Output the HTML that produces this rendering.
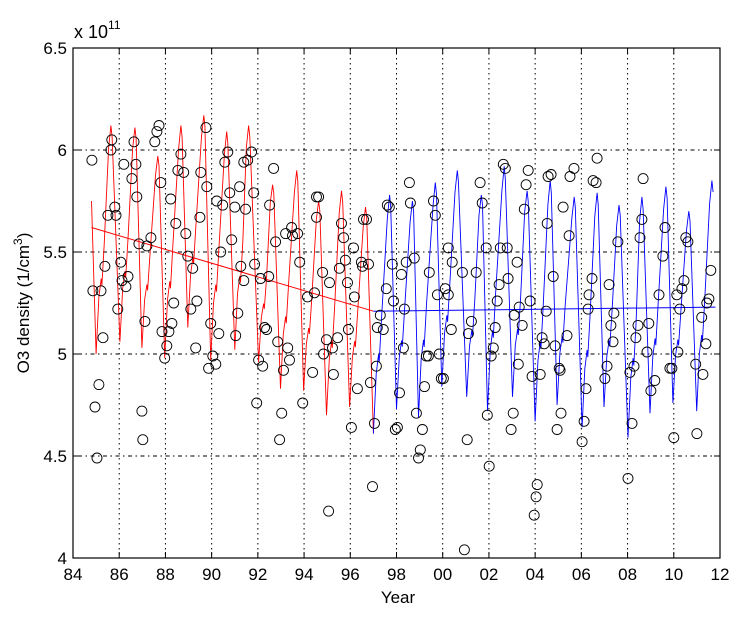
<!DOCTYPE html>
<html><head><meta charset="utf-8"><style>
html,body{margin:0;padding:0;background:#fff;}
svg{display:block;font-family:"Liberation Sans",sans-serif;}
</style></head><body>
<svg id="chart" width="750" height="619" viewBox="0 0 750 619" xmlns="http://www.w3.org/2000/svg">
<rect x="0" y="0" width="750" height="619" fill="#fff"/>
<g id="grid"></g>
<g id="plot"></g>
<g id="axes"></g>
<text x="74" y="38" font-size="18">x 10<tspan font-size="12" dy="-9">11</tspan></text>
<text x="398" y="603" font-size="17" text-anchor="middle">Year</text>
<text transform="translate(29,303) rotate(-90)" font-size="17" text-anchor="middle">O3 density (1/cm<tspan font-size="12" dy="-7">3</tspan><tspan dy="7">)</tspan></text>
</svg>
<script>
var xTicks=[84,86,88,90,92,94,96,98,100,102,104,106,108,110,112];
var xTickLabels=["84","86","88","90","92","94","96","98","00","02","04","06","08","10","12"];
var yTicks=[4,4.5,5,5.5,6,6.5];
var yTickLabels=["4","4.5","5","5.5","6","6.5"];
// red (pre-1997) seasonal fit: start value, peaks and troughs
var redStart=[84.8,5.75];
var redTroughYears=[85.0,86.03,86.98,87.97,88.97,89.96,91.0,92.03,92.98,93.98,94.97,95.97,97.0];
var redTroughVals=[5.0,5.06,5.03,4.98,5.13,4.97,5.02,4.96,4.83,4.82,4.70,4.74,4.61];
var redPeakYears=[85.64,86.68,87.67,88.67,89.66,90.65,91.6,92.64,93.68,94.63,95.62,96.66];
var redPeakVals=[6.12,6.11,5.97,6.12,6.17,6.09,6.12,5.83,5.90,5.75,5.80,5.72];
// blue (post-1997) seasonal fit
var blueTroughYears=[97.0,98.0,98.95,99.96,101.04,101.94,103.02,104.0,104.95,106.03,106.98,108.02,108.97,109.96,110.99];
var blueTroughVals=[4.61,4.73,4.69,4.84,4.79,4.72,4.79,4.67,4.75,4.64,4.74,4.59,4.71,4.76,4.72];
var bluePeakYears=[97.7,98.69,99.68,100.63,101.67,102.66,103.65,104.65,105.69,106.68,107.63,108.62,109.66,110.65,111.65];
var bluePeakVals=[5.78,5.75,5.84,5.90,5.78,5.92,5.80,5.85,5.77,5.79,5.73,5.77,5.82,5.70,5.85];
var redTrendYears=[84.8,97.0];
var redTrendVals=[5.62,5.21];
var blueTrendYears=[97.0,111.8];
var blueTrendVals=[5.21,5.23];
var obsYears=[84.82,85.68,85.64,86.20,86.64,86.72,86.55,86.76,85.81,85.51,85.86,85.38,84.86,85.21,85.30,85.12,84.95,86.07,86.12,86.38,86.29,85.94,87.72,87.63,87.54,87.80,87.37,86.85,87.20,87.11,86.98,87.02,85.04,88.23,88.67,88.54,88.79,88.45,88.88,88.97,89.18,88.36,88.28,87.85,88.15,88.06,87.97,89.36,89.10,89.31,89.75,89.53,89.79,89.49,90.22,90.48,89.96,90.31,90.05,90.18,89.87,90.70,90.57,90.78,91.21,91.00,90.87,90.39,91.26,91.13,91.04,91.39,91.73,91.56,92.68,91.82,91.47,92.51,92.77,91.86,91.39,92.12,92.47,92.29,92.38,92.86,93.29,93.37,93.11,92.03,92.21,91.95,93.03,92.94,93.94,93.46,93.20,93.50,93.72,93.81,94.15,94.45,94.63,94.54,94.54,94.80,95.10,94.97,95.23,95.45,94.84,94.37,95.27,95.06,95.62,95.71,96.14,95.79,95.53,95.88,96.18,95.92,96.31,96.05,96.57,96.70,96.48,96.79,96.53,97.30,97.17,97.43,97.13,96.87,97.05,96.96,97.60,97.69,97.82,98.42,98.21,97.56,97.87,98.34,98.30,98.13,98.04,97.95,98.56,98.60,98.77,98.86,99.12,99.03,98.95,99.21,99.29,99.38,99.60,99.68,99.42,99.77,100.11,100.24,100.24,100.41,100.37,99.85,99.94,100.03,101.06,100.94,100.85,101.45,101.62,101.71,101.88,101.11,101.24,101.93,102.01,102.19,102.10,102.27,102.36,102.44,102.49,102.79,102.62,102.71,102.83,103.22,103.09,103.31,103.44,103.27,103.05,102.96,103.70,103.61,103.53,103.78,103.87,104.22,104.09,104.04,103.96,104.56,104.69,104.52,104.78,104.48,104.30,104.39,104.86,105.04,105.12,104.95,105.21,105.51,105.47,105.38,105.68,105.08,106.12,106.03,106.20,106.46,106.33,106.29,106.51,106.64,106.68,107.20,107.41,107.28,107.37,107.11,107.02,107.58,108.02,108.19,108.10,108.28,108.67,108.62,108.54,108.45,108.36,108.84,108.92,109.18,109.01,109.36,109.53,109.62,109.83,109.92,110.00,110.13,110.26,110.35,110.44,110.52,110.61,110.18,110.95,111.26,111.00,111.21,111.39,111.43,111.52,111.60];
var obsVals=[5.95,6.05,6.00,5.93,6.04,5.93,5.86,5.77,5.72,5.68,5.68,5.43,5.31,5.31,5.08,4.85,4.74,5.45,5.36,5.38,5.33,5.22,6.12,6.09,6.04,5.84,5.57,5.54,5.53,5.16,4.72,4.58,4.49,5.76,5.98,5.90,5.89,5.64,5.59,5.48,5.42,5.25,5.15,5.11,5.11,5.04,4.98,5.26,5.22,5.03,6.11,5.89,5.82,5.67,5.75,5.73,5.15,5.10,4.99,4.95,4.93,5.99,5.94,5.79,5.82,5.72,5.56,5.50,5.43,5.20,5.09,5.94,5.99,5.95,5.91,5.79,5.71,5.73,5.55,5.44,5.36,5.37,5.38,5.13,5.12,5.06,5.03,4.97,4.92,4.97,4.94,4.76,4.71,4.58,4.76,5.62,5.59,5.58,5.59,5.45,5.28,5.30,5.77,5.77,5.67,5.40,5.35,5.07,5.03,5.08,5.00,4.91,4.90,4.23,5.64,5.57,5.52,5.46,5.42,5.35,5.28,5.12,4.83,4.64,5.66,5.66,5.45,5.44,5.43,5.19,5.13,5.12,4.94,4.86,4.66,4.35,5.73,5.72,5.44,5.45,5.39,5.32,5.26,5.22,5.03,4.81,4.64,4.63,5.84,5.74,5.47,4.71,4.63,4.53,4.49,4.84,4.99,4.99,5.75,5.68,5.40,5.29,5.32,5.29,5.52,5.45,5.12,5.00,4.88,4.88,4.58,4.04,5.40,5.40,5.84,5.74,5.52,5.10,5.16,4.70,4.45,5.03,4.99,5.13,5.26,5.34,5.52,5.52,5.93,5.91,5.37,5.45,5.19,5.23,5.14,4.95,4.71,4.63,5.90,5.83,5.71,5.26,4.89,4.90,4.36,4.30,4.21,5.87,5.88,5.64,5.38,5.21,5.08,5.05,5.04,4.93,4.71,4.63,5.72,5.87,5.58,5.09,5.91,4.92,4.67,4.57,4.83,5.37,5.29,5.22,5.85,5.84,5.96,5.34,5.20,5.14,5.06,4.94,4.88,5.55,4.39,4.66,4.91,4.94,5.86,5.66,5.57,5.14,5.08,5.01,5.15,4.87,4.82,5.29,5.48,5.62,4.93,4.93,4.59,5.29,5.22,5.32,5.36,5.57,5.55,5.01,4.95,4.90,4.61,5.18,5.05,5.25,5.27,5.41];

var L=73,R=720,T=48,B=558;
function sx(y){return L+(y-84)/(112-84)*(R-L);}
function sy(v){return B-(v-4)/(6.5-4)*(B-T);}
var NS="http://www.w3.org/2000/svg";
function mk(tag,parent){var e=document.createElementNS(NS,tag);parent.appendChild(e);return e;}
var grid=document.getElementById('grid'),plot=document.getElementById('plot'),axes=document.getElementById('axes');

xTicks.forEach(function(t,i){
  var x=sx(t);
  if(i>0&&i<xTicks.length-1){
    var g=mk('line',grid);
    
    
    g.setAttribute('x1',x);g.setAttribute('x2',x);g.setAttribute('y1',T);g.setAttribute('y2',B);
    g.setAttribute('stroke','#000');g.setAttribute('stroke-width','1');g.setAttribute('stroke-dasharray','1.5,3.5');
  }
  var tk=mk('path',axes);
  
  
  tk.setAttribute('d','M'+x+','+B+'v-6M'+x+','+T+'v6');tk.setAttribute('stroke','#000');
  var tx=mk('text',axes);
  
  
  tx.setAttribute('x',x);tx.setAttribute('y',B+22);tx.setAttribute('font-size','17');tx.setAttribute('text-anchor','middle');
  tx.textContent=xTickLabels[i];
});
yTicks.forEach(function(t,i){
  var y=sy(t);
  if(i>0&&i<yTicks.length-1){
    var g=mk('line',grid);
    
    
    g.setAttribute('x1',L);g.setAttribute('x2',R);g.setAttribute('y1',y);g.setAttribute('y2',y);
    g.setAttribute('stroke','#000');g.setAttribute('stroke-width','1');g.setAttribute('stroke-dasharray','1.5,3.5,4,3.5');
  }
  var tk=mk('path',axes);
  
  
  tk.setAttribute('d','M'+L+','+y+'h6M'+R+','+y+'h-6');tk.setAttribute('stroke','#000');
  var tx=mk('text',axes);
  
  
  tx.setAttribute('x',L-6);tx.setAttribute('y',y+6);tx.setAttribute('font-size','17');tx.setAttribute('text-anchor','end');
  tx.textContent=yTickLabels[i];
});
var box=mk('rect',axes);


box.setAttribute('x',L);box.setAttribute('y',T);box.setAttribute('width',R-L);box.setAttribute('height',B-T);
box.setAttribute('fill','none');box.setAttribute('stroke','#000');box.setAttribute('stroke-width','1.2');

function cycle(start,ty,tv,py,pv,peakFirst){
  var pts=[];if(start)pts.push(start);
  var n=Math.max(ty.length,py.length);
  for(var i=0;i<n;i++){
    if(i<ty.length){
      pts.push([ty[i],tv[i]]);
      if(i<py.length){
        var a=ty[i],b=py[i],lo=tv[i],hi=pv[i];
        pts.push([a+0.12,lo+(hi-lo)*0.25]);
        pts.push([a+0.22,lo+(hi-lo)*0.33]);
        pts.push([a+0.25,lo+(hi-lo)*0.30]);
        pts.push([a+0.35,lo+(hi-lo)*0.48]);
        pts.push([b-0.1,lo+(hi-lo)*0.9]);
        pts.push([b,hi]);
        pts.push([b+0.05,hi-(hi-lo)*0.05]);
      }
    }
  }
  return pts;
}
function drawLine(pts,color,name,w){
  var p=mk('polyline',plot);
  
  
  p.setAttribute('points',pts.map(function(q){return sx(q[0]).toFixed(1)+','+sy(q[1]).toFixed(1);}).join(' '));
  p.setAttribute('fill','none');p.setAttribute('stroke',color);p.setAttribute('stroke-width',w);
}
var redPts=cycle(redStart,redTroughYears,redTroughVals,redPeakYears,redPeakVals);
var bluePts=cycle(null,blueTroughYears,blueTroughVals,bluePeakYears,bluePeakVals);
drawLine(redPts,'#f00','red-seasonal-fit-line','0.9');
drawLine(bluePts,'#00f','blue-seasonal-fit-line','0.9');
drawLine([[redTrendYears[0],redTrendVals[0]],[redTrendYears[1],redTrendVals[1]]],'#f00','red-trend-line','1');
drawLine([[blueTrendYears[0],blueTrendVals[0]],[blueTrendYears[1],blueTrendVals[1]]],'#00f','blue-trend-line','1');

obsYears.forEach(function(yr,i){
  var c=mk('circle',plot);
  
  
  c.setAttribute('cx',sx(yr).toFixed(1));c.setAttribute('cy',sy(obsVals[i]).toFixed(1));c.setAttribute('r','5');
  c.setAttribute('fill','none');c.setAttribute('stroke','#000');c.setAttribute('stroke-width','0.9');
});
</script>
</body></html>
